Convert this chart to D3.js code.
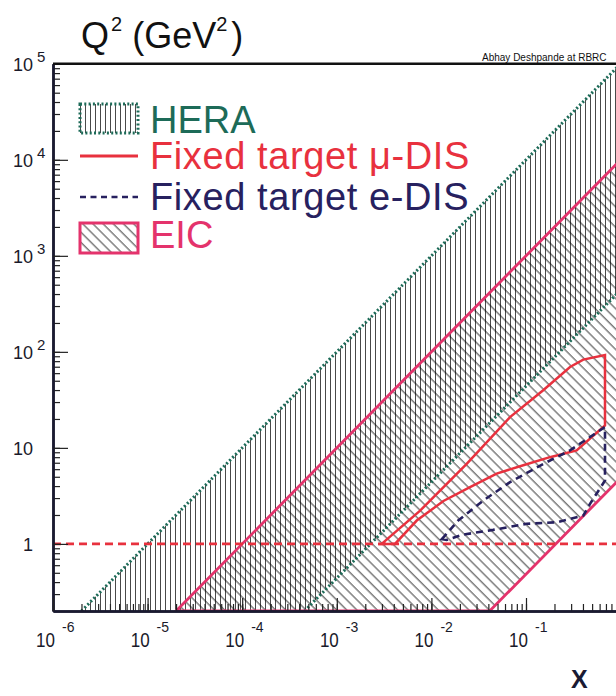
<!DOCTYPE html>
<html>
<head>
<meta charset="utf-8">
<script src="https://cdn.jsdelivr.net/npm/d3@7"></script>
<style>
  body { margin: 0; background: #fff; }
  svg { display: block; font-family: "Liberation Sans", Arial, Helvetica, sans-serif; }
</style>
</head>
<body>
<div id="chart"></div>
<script>
// canvas
const width = 616, height = 696

// axis decades and their labels
const xDecades = [1e-6, 1e-5, 1e-4, 1e-3, 1e-2, 1e-1]
const xExponents = ['-6', '-5', '-4', '-3', '-2', '-1']
const yDecades = [1, 10, 1e2, 1e3, 1e4, 1e5]
const yBases = ['1', '10', '10', '10', '10', '10']
const yExponents = ['', '', '2', '3', '4', '5']

// regions as [x, Q2]
const heraRegion = [[2e-6, 0.2], [1, 1e5], [1, 440], [4.55e-4, 0.2]]
const eicRegion = [[2e-5, 0.2], [1, 1e4], [1, 4.85], [0.0413, 0.2]]
const muDis = [[0.00298, 1.0], [0.0076, 2.22], [0.0236, 6.8], [0.0678, 20.9], [0.152, 39.8],
  [0.292, 69.5], [0.403, 83], [0.684, 92.5], [0.684, 17.1], [0.343, 9.4], [0.179, 8.0],
  [0.0936, 6.6], [0.049, 5.4], [0.0256, 3.9], [0.0134, 2.8], [0.0070, 1.75], [0.00412, 1.0]]
const eDis = [[0.0129, 1.12], [0.0192, 1.75], [0.0354, 2.83], [0.0678, 4.39], [0.152, 6.8],
  [0.292, 9.4], [0.684, 16.5], [0.684, 4.57], [0.475, 2.61], [0.403, 1.97], [0.211, 1.68],
  [0.1016, 1.62], [0.045, 1.4], [0.0217, 1.25], [0.0145, 1.1]]
const q2Line = [[1e-6, 1], [1, 1]]

// legend
const legendLabels = ['HERA', 'Fixed target \u03bc-DIS', 'Fixed target e-DIS', 'EIC']

// colours
const green = '#1d6b58', red = '#e8313e', navy = '#27215f', pink = '#e4336c'

const svg = d3.select('#chart')
  .append('svg')
  .attr('width', width)
  .attr('height', height)

// scales
const x = d3.scaleLog().domain([1e-6, 1]).range([53, 620.6])
const y = d3.scaleLog().domain([0.2, 1e5]).range([611, 63.8])

const defs = svg.append('defs')
defs.append('clipPath').attr('id', 'plotClip')
  .append('rect')
  .attr('x', x(1e-6)).attr('y', y(1e5))
  .attr('width', x(1) - x(1e-6)).attr('height', y(0.2) - y(1e5))

// hatch patterns
defs.append('pattern')
  .attr('id', 'heraHatch')
  .attr('patternUnits', 'userSpaceOnUse')
  .attr('width', 5).attr('height', 10)
  .append('line')
  .attr('x1', 0.5).attr('y1', 0).attr('x2', 0.5).attr('y2', 10)
  .attr('stroke', '#4a4a4a').attr('stroke-width', 1)

defs.append('pattern')
  .attr('id', 'eicHatch')
  .attr('patternUnits', 'userSpaceOnUse')
  .attr('width', 7.2).attr('height', 10)
  .attr('patternTransform', 'rotate(-45)')
  .append('line')
  .attr('x1', 1).attr('y1', 0).attr('x2', 1).attr('y2', 10)
  .attr('stroke', '#000').attr('stroke-width', 0.8)

const line = d3.line().x(d => x(d[0])).y(d => y(d[1]))

const plot = svg.append('g').attr('clip-path', 'url(#plotClip)')

// hatched regions
plot.append('path')
  .attr('d', line(heraRegion) + 'Z')
  .attr('fill', 'url(#heraHatch)')

plot.append('path')
  .attr('d', line(eicRegion) + 'Z')
  .attr('fill', 'url(#eicHatch)')

// HERA limits, dotted
plot.selectAll('.hera-edge')
  .data([[heraRegion[0], heraRegion[1]], [heraRegion[3], heraRegion[2]]])
  .enter()
  .append('path')
  .attr('class', 'hera-edge')
  .attr('d', d => line(d))
  .attr('fill', 'none')
  .attr('stroke', green)
  .attr('stroke-width', 3)
  .attr('stroke-dasharray', '2,2.3')

// EIC outline
plot.append('path')
  .attr('d', line(eicRegion) + 'Z')
  .attr('fill', 'none')
  .attr('stroke', pink)
  .attr('stroke-width', 2.8)

// fixed target regions
plot.append('path')
  .attr('d', line(muDis) + 'Z')
  .attr('fill', 'none')
  .attr('stroke', red)
  .attr('stroke-width', 2.5)

plot.append('path')
  .attr('d', line(eDis) + 'Z')
  .attr('fill', 'none')
  .attr('stroke', navy)
  .attr('stroke-width', 2.6)
  .attr('stroke-dasharray', '7,5')

// Q2 = 1 line
plot.append('path')
  .attr('d', line(q2Line))
  .attr('fill', 'none')
  .attr('stroke', red)
  .attr('stroke-width', 2.7)
  .attr('stroke-dasharray', '8,5')

// axes: minor and major ticks drawn inwards
let axisStyle = g => {
  g.selectAll('.tick line').attr('stroke', '#222').attr('stroke-width', 1.2)
  g.selectAll('.tick text').remove()
  g.select('.domain').attr('stroke', '#1a1a30').attr('stroke-width', 2.5)
}

svg.append('g')
  .attr('transform', `translate(${x(1e-6)},0)`)
  .call(d3.axisLeft(y).tickValues(y.ticks()).tickSize(-7).tickSizeOuter(0))
  .call(axisStyle)
svg.append('g')
  .attr('transform', `translate(${x(1e-6)},0)`)
  .call(d3.axisLeft(y).tickValues(yDecades).tickSize(-15).tickSizeOuter(0))
  .call(axisStyle)

svg.append('g')
  .attr('transform', `translate(0,${y(0.2)})`)
  .call(d3.axisBottom(x).tickValues(x.ticks()).tickSize(-7).tickSizeOuter(0))
  .call(axisStyle)
svg.append('g')
  .attr('transform', `translate(0,${y(0.2)})`)
  .call(d3.axisBottom(x).tickValues(xDecades).tickSize(-13).tickSizeOuter(0))
  .call(axisStyle)

// top frame
svg.append('path')
  .attr('d', line([[1e-6, 1e5], [1, 1e5]]))
  .attr('stroke', '#111')
  .attr('stroke-width', 2.5)

// y labels
const yLab = svg.append('g').attr('fill', '#1a1a2a')
yDecades.forEach((d, i) => {
  yLab.append('text')
    .attr('x', 33).attr('y', y(d) + 7)
    .attr('text-anchor', 'end')
    .attr('font-size', 18)
    .text(yBases[i])
  yLab.append('text')
    .attr('x', 37).attr('y', y(d) - 2)
    .attr('font-size', 15)
    .text(yExponents[i])
})

// x labels
const xLab = svg.append('g').attr('fill', '#1a1a2a')
xDecades.forEach((d, i) => {
  xLab.append('text')
    .attr('transform', `translate(${x(d) + 2},${647}) scale(0.85,1)`)
    .attr('text-anchor', 'end')
    .attr('font-size', 20)
    .text('10')
  xLab.append('text')
    .attr('x', x(d) + 9).attr('y', 632)
    .attr('font-size', 14)
    .text(xExponents[i])
})

// axis titles
const title = svg.append('text')
  .attr('x', 81).attr('y', 48)
  .attr('fill', '#111')
  .attr('font-size', 36)
title.append('tspan').text('Q')
title.append('tspan').attr('font-size', 20).attr('dx', 2).attr('dy', -17).text('2')
title.append('tspan').attr('dy', 17).text(' (GeV')
title.append('tspan').attr('font-size', 20).attr('dy', -17).text('2')
title.append('tspan').attr('dx', 4).attr('dy', 17).text(')')

svg.append('text')
  .attr('x', 571).attr('y', 688)
  .attr('font-size', 25).attr('font-weight', 'bold')
  .attr('fill', '#1a1a33')
  .text('X')

svg.append('text')
  .attr('x', 482).attr('y', 61)
  .attr('font-size', 10)
  .attr('fill', '#111')
  .text('Abhay Deshpande at RBRC')

// legend
const legend = svg.append('g')
legend.append('rect')
  .attr('x', 80).attr('y', 104).attr('width', 58).attr('height', 29)
  .attr('fill', 'url(#heraHatch)')
  .attr('stroke', green).attr('stroke-width', 3).attr('stroke-dasharray', '2,2.3')
legend.append('line')
  .attr('x1', 80).attr('x2', 138).attr('y1', 156).attr('y2', 156)
  .attr('stroke', red).attr('stroke-width', 3)
legend.append('line')
  .attr('x1', 80).attr('x2', 138).attr('y1', 197).attr('y2', 197)
  .attr('stroke', navy).attr('stroke-width', 2.5).attr('stroke-dasharray', '6,4.5')
legend.append('rect')
  .attr('x', 80).attr('y', 223).attr('width', 58).attr('height', 30)
  .attr('fill', 'url(#eicHatch)')
  .attr('stroke', pink).attr('stroke-width', 3)

const legendColors = [green, red, navy, pink]
const legendBaselines = [133, 169, 210, 248]
const legendSpacing = [0, 0.6, 0.6, 0]
legend.selectAll('.legend-text')
  .data(legendLabels)
  .enter()
  .append('text')
  .attr('class', 'legend-text')
  .attr('x', 150)
  .attr('y', (d, i) => legendBaselines[i])
  .attr('font-size', 38)
  .attr('letter-spacing', (d, i) => legendSpacing[i])
  .attr('fill', (d, i) => legendColors[i])
  .text(d => d)
</script>
</body>
</html>
